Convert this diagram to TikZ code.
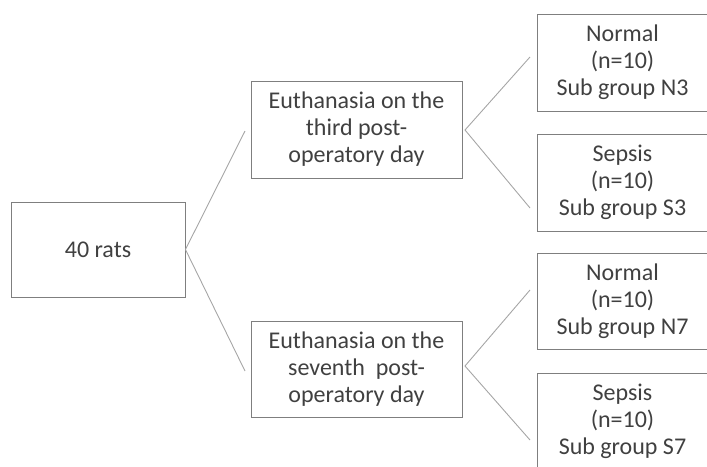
\documentclass[tikz,border=0pt]{standalone}
\usepackage{fontspec}
\setmainfont{Carlito}
\definecolor{boxgray}{HTML}{7F7F7F}
\definecolor{txtgray}{HTML}{404040}
\definecolor{linegray}{HTML}{A6A6A6}
\begin{document}
\begin{tikzpicture}[x=1pt,y=-1pt,
  box/.style={draw=boxgray, line width=0.9pt, text=txtgray, align=center,
    inner sep=0pt, font=\fontsize{24}{27}\selectfont},
  conn/.style={draw=linegray, line width=0.9pt}]
\useasboundingbox (0,0) rectangle (707,466);
\node[box, minimum width=174pt, minimum height=95pt] (rats) at (98,249.5) {40 rats};
\node[box, minimum width=211pt, minimum height=97pt] (third) at (356.5,129.5) {Euthanasia on the\\third post-\\operatory day};
\node[box, minimum width=211pt, minimum height=96pt] (seventh) at (356.5,369) {Euthanasia on the\\seventh\ \ post-\\operatory day};
\node[box, minimum width=171pt, minimum height=97pt] (n3) at (622.5,62.5) {Normal\\(n=10)\\Sub group N3};
\node[box, minimum width=171pt, minimum height=97pt] (s3) at (622.5,182.5) {Sepsis\\(n=10)\\Sub group S3};
\node[box, minimum width=171pt, minimum height=96pt] (n7) at (622.5,301) {Normal\\(n=10)\\Sub group N7};
\node[box, minimum width=171pt, minimum height=97pt] (s7) at (622.5,421.5) {Sepsis\\(n=10)\\Sub group S7};
\coordinate (a1) at (245,131);
\coordinate (a2) at (245,371);
\coordinate (t0) at (465,130);
\coordinate (t1) at (530,57);
\coordinate (t2) at (530,208);
\coordinate (v0) at (465,366);
\coordinate (v1) at (530,290);
\coordinate (v2) at (530,440);
\draw[conn] (rats.east) -- (a1);
\draw[conn] (rats.east) -- (a2);
\draw[conn] (t1) -- (t0) -- (t2);
\draw[conn] (v1) -- (v0) -- (v2);
\end{tikzpicture}
\end{document}
